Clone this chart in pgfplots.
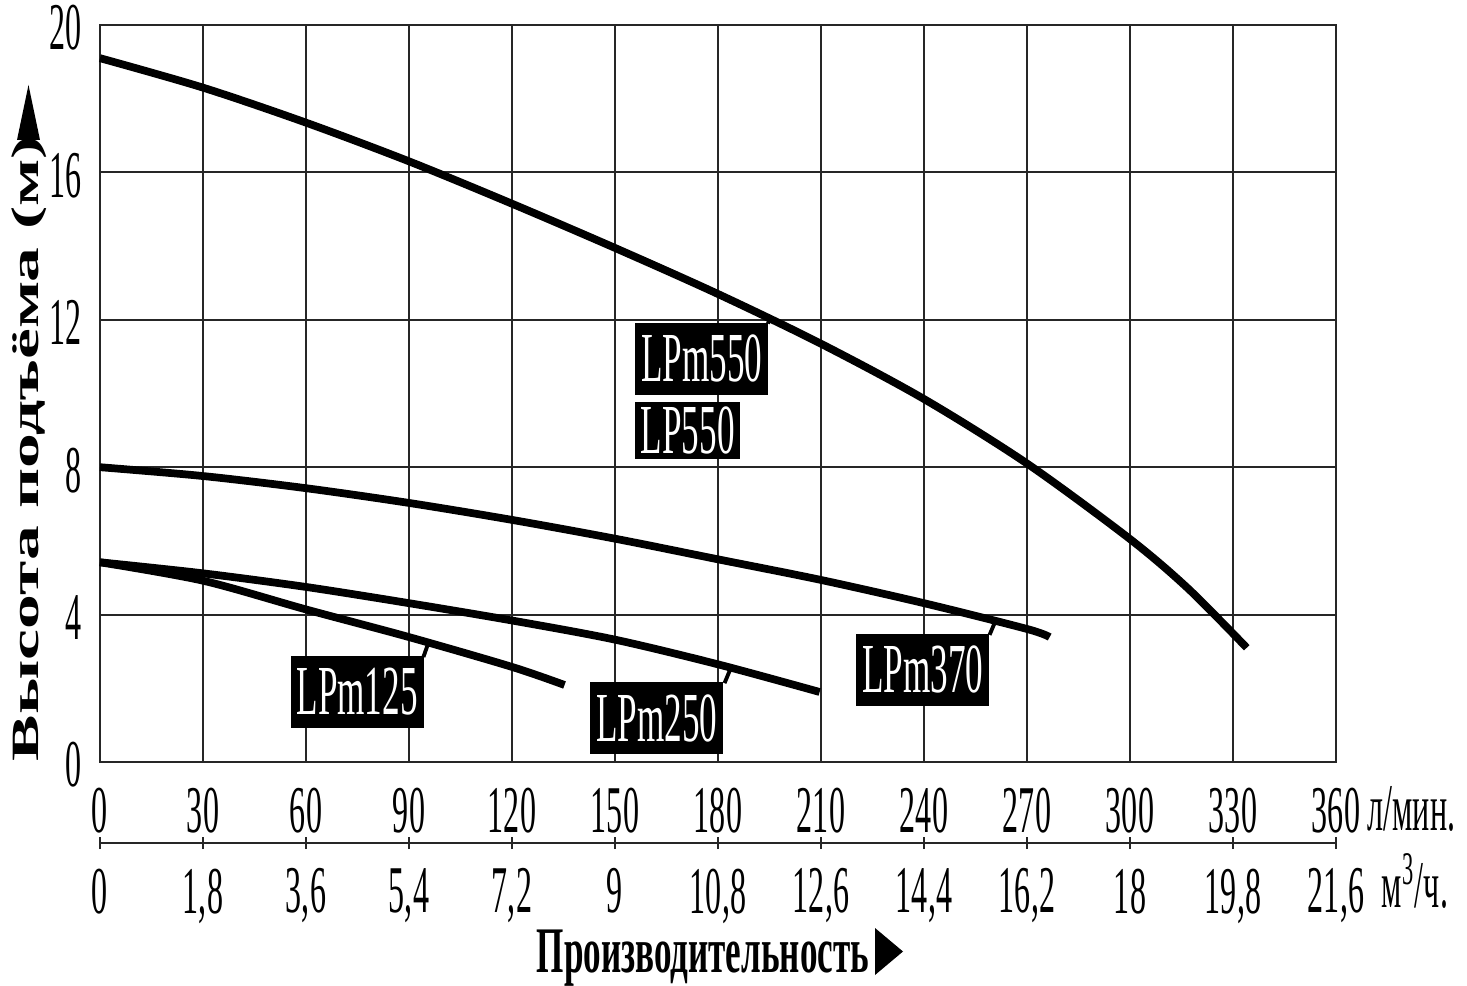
\documentclass[border=0pt]{standalone}
\usepackage{fontspec}
\usepackage{pgfplots}
\pgfplotsset{compat=1.18}
\setmainfont{Liberation Serif}
\newfontfamily\tickfont{Liberation Serif}[FakeStretch=0.48]
\newfontfamily\boxfont{Liberation Serif}[FakeStretch=0.5]
\newfontfamily\xtitlefont{Liberation Serif}[FakeStretch=0.54]
\newfontfamily\ytitlefont{Liberation Serif}[FakeStretch=1.8]

\begin{document}
\begin{tikzpicture}
\begin{axis}[
  width=12.36cm, height=7.37cm, scale only axis,
  xmin=0, xmax=360, ymin=0, ymax=20,
  xtick={0,30,...,360}, ytick={0,4,...,20},
  grid=major,
  major grid style={line width=0.6pt, black!85},
  axis line style={line width=0.8pt, black!85},
  major tick length=0pt,
  /pgf/number format/assume math mode=true,
  ticklabel style={font=\tickfont\fontsize{19}{19}\selectfont},
  xticklabel style={anchor=north, inner sep=0pt, yshift=-0.25cm},
  yticklabel style={anchor=east, inner sep=0pt, xshift=-0.18cm, yshift=-0.03cm},
  clip=false,
]
% LPm550 / LP550
\addplot[black, line width=2.2pt, smooth] coordinates {
  (0,19.1) (30,18.3) (60,17.35) (90,16.3) (120,15.15) (150,13.95) (180,12.7)
  (210,11.35) (240,9.85) (270,8.1) (300,6.05) (317,4.7) (334,3.1)};
% LPm370
\addplot[black, line width=2.2pt, smooth] coordinates {
  (0,8.0) (30,7.76) (60,7.43) (90,7.03) (120,6.57) (150,6.06) (180,5.5)
  (210,4.94) (240,4.31) (270,3.61) (276.6,3.39)};
% LPm250
\addplot[black, line width=2.2pt, smooth] coordinates {
  (0,5.42) (30,5.12) (60,4.75) (90,4.31) (120,3.84) (150,3.32) (180,2.65) (209.6,1.9)};
% LPm125
\addplot[black, line width=2.2pt, smooth] coordinates {
  (0,5.42) (30,4.92) (60,4.14) (90,3.39) (120,2.58) (135.3,2.09)};

\tikzset{lbl/.style={fill=black, text=white, inner sep=0pt,
  font=\boxfont\fontsize{20}{20}\selectfont, minimum width=1.33cm, minimum height=0.72cm}}
\node[lbl] at (axis cs:175.3,10.94) {LPm550};
\node[lbl, minimum width=1.05cm, minimum height=0.57cm] at (axis cs:171.2,9.0) {LP550};
\node[lbl] at (axis cs:74.9,1.90) {LPm125};
\node[lbl] at (axis cs:162.2,1.19) {LPm250};
\node[lbl] at (axis cs:239.7,2.50) {LPm370};
\draw[line width=1.1pt] (axis cs:194.5,11.9) -- (axis cs:195.6,12.1);
\draw[line width=1.1pt] (axis cs:94.2,2.85) -- (axis cs:95.6,3.22);
\draw[line width=1.1pt] (axis cs:181.9,2.14) -- (axis cs:183.6,2.52);
\draw[line width=1.1pt] (axis cs:259.1,3.45) -- (axis cs:260.6,3.78);
\end{axis}

% second scale in m3/h
\begin{axis}[
  at={(0,-0.81cm)}, anchor=south west,
  width=12.36cm, height=1cm, scale only axis,
  xmin=0, xmax=21.6, ymin=0, ymax=1,
  hide y axis, axis x line*=bottom,
  xtick={0,1.8,3.6,5.4,7.2,9,10.8,12.6,14.4,16.2,18,19.8,21.6},
  xticklabels={0,{1,8},{3,6},{5,4},{7,2},9,{10,8},{12,6},{14,4},{16,2},18,{19,8},{21,6}},
  tick align=center, major tick length=0.12cm,
  axis line style={line width=0.8pt, black!85},
  tick style={line width=0.8pt, black!85},
  /pgf/number format/assume math mode=true,
  xticklabel style={font=\tickfont\fontsize{19}{19}\selectfont, anchor=north, inner sep=0pt, yshift=-0.19cm},
]
\end{axis}

% units
\node[anchor=base west, inner sep=0pt, font=\tickfont\fontsize{19}{19}\selectfont] at (12.67,-0.68) {л/мин.};
\node[anchor=base west, inner sep=0pt, font=\tickfont\fontsize{19}{19}\selectfont] at (12.81,-1.45) {м\textsuperscript{3}/ч.};

% axis titles
\node[anchor=base west, inner sep=0pt, font=\xtitlefont\bfseries\fontsize{18.5}{18.5}\selectfont] at (4.36,-2.10) {Производительность};
\fill (7.75,-1.66) -- (7.75,-2.13) -- (8.03,-1.895) -- cycle;
\node[anchor=base west, inner sep=0pt, rotate=90, font=\ytitlefont\bfseries\fontsize{11}{11}\selectfont] at (-0.62,0.0) {Высота подъёма (м)};
\fill (-0.83,6.22) -- (-0.60,6.22) -- (-0.715,6.77) -- cycle;

\path (-1.0,-2.2) rectangle (13.67,7.62);
\end{tikzpicture}
\end{document}
